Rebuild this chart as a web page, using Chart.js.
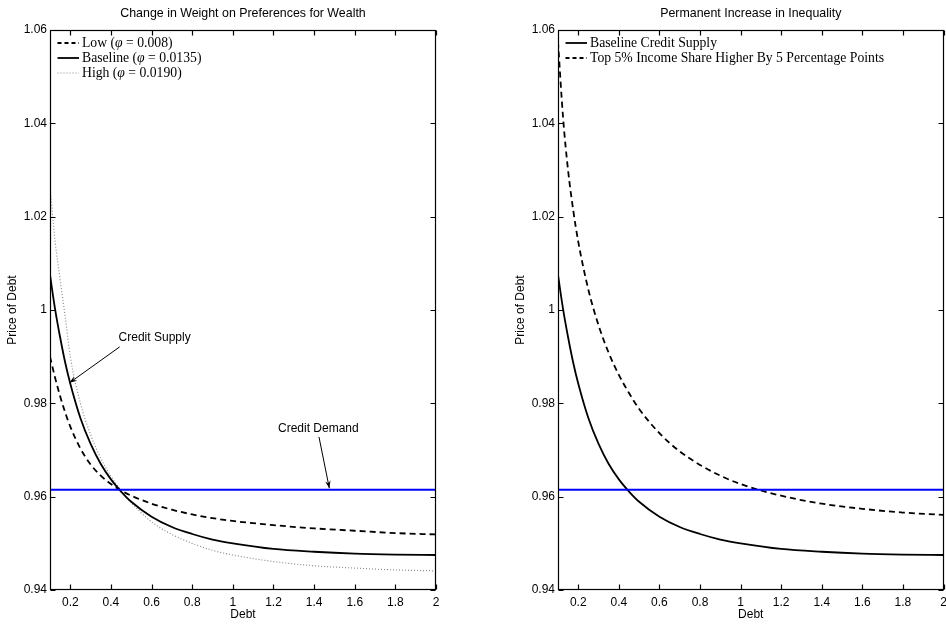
<!DOCTYPE html>
<html>
<head>
<meta charset="utf-8">
<script src="https://cdn.jsdelivr.net/npm/chart.js@4/dist/chart.umd.min.js"></script>
<style>
  html, body { margin: 0; padding: 0; background: #fff; overflow: hidden; width: 946px; height: 627px; }
  canvas { position: absolute; top: 0; }
  #left { left: 0; }
  #right { left: 470px; }
</style>
</head>
<body>
<canvas id="left" width="460" height="627" style="width:460px;height:627px"></canvas>
<canvas id="right" width="490" height="627" style="width:490px;height:627px"></canvas>
<script>
// debt levels the supply curves are evaluated at
var debt = [0.1, 0.125, 0.15, 0.175, 0.2, 0.25, 0.3, 0.35, 0.4, 0.45, 0.5, 0.6, 0.7, 0.8, 0.9, 1.0, 1.2, 1.4, 1.6, 1.8, 2.0];

// credit supply (price of debt) for the three wealth-preference weights
var supplyLow      = [0.9900, 0.9855, 0.9815, 0.9780, 0.9750, 0.9703, 0.9669, 0.9645, 0.9627, 0.9613, 0.9602, 0.9585, 0.9572, 0.9562, 0.9554, 0.9548, 0.9539, 0.9532, 0.9527, 0.9522, 0.9519];
var supplyBaseline = [1.0075, 1.0002, 0.9941, 0.9887, 0.9842, 0.9768, 0.9713, 0.9670, 0.9637, 0.9611, 0.9589, 0.9557, 0.9535, 0.9520, 0.9508, 0.9500, 0.9488, 0.9482, 0.9478, 0.9476, 0.9475];
var supplyHigh     = [1.0264, 1.0148, 1.0065, 0.9985, 0.9900, 0.9800, 0.9733, 0.9682, 0.9644, 0.9613, 0.9587, 0.9546, 0.9519, 0.9500, 0.9485, 0.9475, 0.9461, 0.9452, 0.9447, 0.9443, 0.9441];

// credit supply after the top 5% income share rises by 5 points
var supplyTop5 = [1.0575, 1.0412, 1.0298, 1.0214, 1.0146, 1.0043, 0.9967, 0.9908, 0.9861, 0.9822, 0.9788, 0.9736, 0.9697, 0.9668, 0.9645, 0.9627, 0.9602, 0.9585, 0.9574, 0.9566, 0.9561];

// flat credit demand
var demandDebt = [0.1, 2.0];
var demandPrice = [0.9615, 0.9615];

var xTicks = [0.2, 0.4, 0.6, 0.8, 1, 1.2, 1.4, 1.6, 1.8, 2];
var yTicks = [0.94, 0.96, 0.98, 1, 1.02, 1.04, 1.06];

var SANS = '"Liberation Sans", Arial, Helvetica, sans-serif';
var SERIF = '"Liberation Serif", "DejaVu Serif", serif';

function pts(xs, ys) {
  return xs.map(function (x, i) { return {x: x, y: ys[i]}; });
}

function curve(label, ys, dash, color, width) {
  return {
    label: label,
    data: pts(debt, ys),
    borderColor: color,
    borderWidth: width,
    borderDash: dash,
    pointRadius: 0,
    fill: false,
    cubicInterpolationMode: 'monotone'
  };
}

function demandLine() {
  return {
    label: 'Credit Demand',
    data: pts(demandDebt, demandPrice),
    borderColor: '#0000ff',
    borderWidth: 2,
    pointRadius: 0,
    fill: false
  };
}

// box round the plot with inward ticks on all four sides
var frame = {
  id: 'frame',
  afterDatasetsDraw: function (chart) {
    var ctx = chart.ctx, a = chart.chartArea, x = chart.scales.x, y = chart.scales.y;
    var L = Math.round(a.left) + 0.5, R = Math.round(a.right) - 0.5;
    var T = Math.round(a.top) + 0.5, B = Math.round(a.bottom) - 0.5;
    ctx.save();
    ctx.strokeStyle = '#000';
    ctx.lineWidth = 1.2;
    ctx.strokeRect(L, T, R - L, B - T);
    ctx.beginPath();
    xTicks.forEach(function (v) {
      var px = Math.round(x.getPixelForValue(v)) + 0.5;
      ctx.moveTo(px, B); ctx.lineTo(px, B - 5);
      ctx.moveTo(px, T); ctx.lineTo(px, T + 5);
    });
    yTicks.forEach(function (v) {
      var py = Math.round(y.getPixelForValue(v)) + 0.5;
      ctx.moveTo(L, py); ctx.lineTo(L + 5, py);
      ctx.moveTo(R, py); ctx.lineTo(R - 5, py);
    });
    ctx.stroke();
    ctx.restore();
  }
};

// title centred over the plot area
var heading = {
  id: 'heading',
  afterDraw: function (chart, args, opts) {
    var ctx = chart.ctx, a = chart.chartArea;
    ctx.save();
    ctx.fillStyle = '#000';
    ctx.font = '12.4px ' + SANS;
    ctx.textAlign = 'center';
    ctx.textBaseline = 'middle';
    ctx.fillText(opts.text, (a.left + a.right) / 2, 14);
    ctx.restore();
  }
};

// legend inside the top-left corner, serif text with line samples
var keyBox = {
  id: 'keyBox',
  afterDraw: function (chart, args, opts) {
    var ctx = chart.ctx, a = chart.chartArea;
    ctx.save();
    opts.items.forEach(function (it, i) {
      var yy = a.top + 13 + i * 15;
      ctx.beginPath();
      ctx.strokeStyle = it.color;
      ctx.lineWidth = it.width;
      ctx.setLineDash(it.dash);
      ctx.moveTo(a.left + 7.5, yy);
      ctx.lineTo(a.left + 29, yy);
      ctx.stroke();
      ctx.setLineDash([]);
      var xx = a.left + 32;
      ctx.fillStyle = '#000';
      ctx.textBaseline = 'middle';
      ctx.textAlign = 'left';
      it.parts.forEach(function (p) {
        ctx.font = (p.italic ? 'italic ' : '') + '13.7px ' + SERIF;
        ctx.fillText(p.t, xx, yy);
        xx += ctx.measureText(p.t).width;
      });
    });
    ctx.restore();
  }
};

// text labels with arrows pointing at the curves (data coordinates)
var notes = {
  id: 'notes',
  afterDraw: function (chart, args, opts) {
    var ctx = chart.ctx, x = chart.scales.x, y = chart.scales.y;
    ctx.save();
    (opts.items || []).forEach(function (n) {
      ctx.fillStyle = '#000';
      ctx.font = '12px ' + SANS;
      ctx.textAlign = 'center';
      ctx.textBaseline = 'middle';
      ctx.fillText(n.text, x.getPixelForValue(n.tx), y.getPixelForValue(n.ty));
      var x0 = x.getPixelForValue(n.x0), y0 = y.getPixelForValue(n.y0);
      var x1 = x.getPixelForValue(n.x1), y1 = y.getPixelForValue(n.y1);
      ctx.strokeStyle = '#000';
      ctx.lineWidth = 1;
      ctx.beginPath();
      ctx.moveTo(x0, y0);
      ctx.lineTo(x1, y1);
      ctx.stroke();
      var ang = Math.atan2(y1 - y0, x1 - x0), h = 8, w = 0.35;
      ctx.beginPath();
      ctx.moveTo(x1, y1);
      ctx.lineTo(x1 - h * Math.cos(ang - w), y1 - h * Math.sin(ang - w));
      ctx.lineTo(x1 - h * 0.6 * Math.cos(ang), y1 - h * 0.6 * Math.sin(ang));
      ctx.lineTo(x1 - h * Math.cos(ang + w), y1 - h * Math.sin(ang + w));
      ctx.closePath();
      ctx.fill();
    });
    ctx.restore();
  }
};

function makeOptions(yWidth, yTitlePad, padRight, title, legendItems, noteItems) {
  return {
    responsive: false,
    animation: false,
    events: [],
    layout: {padding: {left: 0, right: padRight, top: 30, bottom: 0}},
    plugins: {
      legend: {display: false},
      tooltip: {enabled: false},
      heading: {text: title},
      keyBox: {items: legendItems},
      notes: {items: noteItems}
    },
    scales: {
      x: {
        type: 'linear',
        min: 0.1,
        max: 2,
        afterFit: function (s) { s.height = 37; },
        afterBuildTicks: function (s) { s.ticks = xTicks.map(function (v) { return {value: v}; }); },
        grid: {display: false, drawTicks: false},
        border: {display: false},
        ticks: {
          color: '#000',
          padding: 5,
          maxRotation: 0,
          autoSkip: false,
          font: {family: SANS, size: 12},
          callback: function (v) { return String(+v.toFixed(2)); }
        },
        title: {display: true, text: 'Debt', color: '#000', font: {family: SANS, size: 12}, padding: {top: 0, bottom: 5}}
      },
      y: {
        type: 'linear',
        min: 0.94,
        max: 1.06,
        afterFit: function (s) { s.width = yWidth; },
        afterBuildTicks: function (s) { s.ticks = yTicks.map(function (v) { return {value: v}; }); },
        grid: {display: false, drawTicks: false},
        border: {display: false},
        ticks: {
          color: '#000',
          padding: 3,
          autoSkip: false,
          font: {family: SANS, size: 12},
          callback: function (v) { return String(+v.toFixed(2)); }
        },
        title: {display: true, text: 'Price of Debt', color: '#000', font: {family: SANS, size: 12}, padding: {top: yTitlePad, bottom: 0}}
      }
    }
  };
}

var dashed = [6, 4];
var dotted = [1, 2];

new Chart(document.getElementById('left'), {
  type: 'line',
  data: {
    datasets: [
      demandLine(),
      curve('Low', supplyLow, dashed, '#000', 1.8),
      curve('Baseline', supplyBaseline, [], '#000', 1.8),
      curve('High', supplyHigh, dotted, '#8c8c8c', 1.2)
    ]
  },
  options: makeOptions(50, 5, 24, 'Change in Weight on Preferences for Wealth', [
    {color: '#000', width: 1.8, dash: [4, 3], parts: [{t: 'Low ('}, {t: '\u03c6', italic: true}, {t: ' = 0.008)'}]},
    {color: '#000', width: 1.8, dash: [], parts: [{t: 'Baseline ('}, {t: '\u03c6', italic: true}, {t: ' = 0.0135)'}]},
    {color: '#8c8c8c', width: 1.2, dash: [1, 2], parts: [{t: 'High ('}, {t: '\u03c6', italic: true}, {t: ' = 0.0190)'}]}
  ], [
    {text: 'Credit Supply', tx: 0.615, ty: 0.9940, x0: 0.443, y0: 0.9921, x1: 0.196, y1: 0.9844},
    {text: 'Credit Demand', tx: 1.421, ty: 0.9745, x0: 1.424, y0: 0.9728, x1: 1.475, y1: 0.9618}
  ]),
  plugins: [frame, heading, keyBox, notes]
});

new Chart(document.getElementById('right'), {
  type: 'line',
  data: {
    datasets: [
      demandLine(),
      curve('Baseline Credit Supply', supplyBaseline, [], '#000', 1.8),
      curve('Top 5% Income Share Higher By 5 Percentage Points', supplyTop5, dashed, '#000', 1.8)
    ]
  },
  options: makeOptions(88, 43, 16.5, 'Permanent Increase in Inequality', [
    {color: '#000', width: 1.8, dash: [], parts: [{t: 'Baseline Credit Supply'}]},
    {color: '#000', width: 1.8, dash: [4, 3], parts: [{t: 'Top 5% Income Share Higher By 5 Percentage Points'}]}
  ], []),
  plugins: [frame, heading, keyBox, notes]
});
</script>
</body>
</html>
